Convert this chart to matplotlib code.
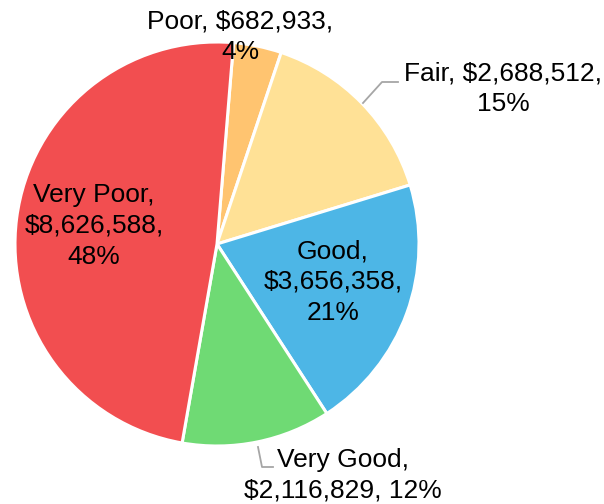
import math
import matplotlib.pyplot as plt

labels = ['Poor', 'Fair', 'Good', 'Very Good', 'Very Poor']
values = [682933, 2688512, 3656358, 2116829, 8626588]
colors = ['#FFC470', '#FFE196', '#4DB6E6', '#6FDA74', '#F24E50']

plt.rcParams['font.family'] = ['Liberation Sans', 'DejaVu Sans']

# pie centre at pixel (217, 244), radius 202 px
cx, cy, r = 217, 244, 202
fig = plt.figure(figsize=(6.04, 5.04), dpi=100)
ax = fig.add_axes([0, 0, 1, 1])

ax.pie(values, colors=colors, startangle=85.3, counterclock=False,
       radius=1.0, center=(0, 0), frame=True,
       wedgeprops=dict(edgecolor='white', linewidth=2.2))
ax.set_xlim(-cx / r, (604 - cx) / r)
ax.set_ylim(-(504 - cy) / r, cy / r)
ax.axis('off')

# percentages rounded so they add up to 100 (largest remainder)
total = sum(values)
raw = [v / total * 100 for v in values]
pcts = [math.floor(p) for p in raw]
order = sorted(range(len(raw)), key=lambda i: raw[i] - pcts[i], reverse=True)
for i in order[:100 - sum(pcts)]:
    pcts[i] += 1


def pct(i):
    return f'{pcts[i]}%'


def money(i):
    return f'${values[i]:,.0f}'


def px(x, y):
    # pixel -> data
    return (x - cx) / r, (cy - y) / r


fs = 19
ls = 1.36
kw = dict(ha='center', va='center', fontsize=fs, linespacing=ls, multialignment='center')
ax.text(*px(240, 37), f'{labels[0]}, {money(0)},\n{pct(0)}', **kw)
ax.text(*px(503, 89), f'{labels[1]}, {money(1)},\n{pct(1)}', **kw)
ax.text(*px(333, 282), f'{labels[2]},\n{money(2)},\n{pct(2)}', **kw)
ax.text(*px(343, 475), f'{labels[3]},\n{money(3)}, {pct(3)}', **kw)
ax.text(*px(94, 226), f'{labels[4]},\n{money(4)},\n{pct(4)}', **kw)

# leader lines
fair_line = [px(363, 103), px(382, 82), px(398, 82)]
vgood_line = [px(258, 447), px(262, 467), px(273, 467)]
for pts in (fair_line, vgood_line):
    ax.plot([p[0] for p in pts], [p[1] for p in pts], color='#A6A6A6', lw=1.3)

fig.savefig('out.png', dpi=100)
